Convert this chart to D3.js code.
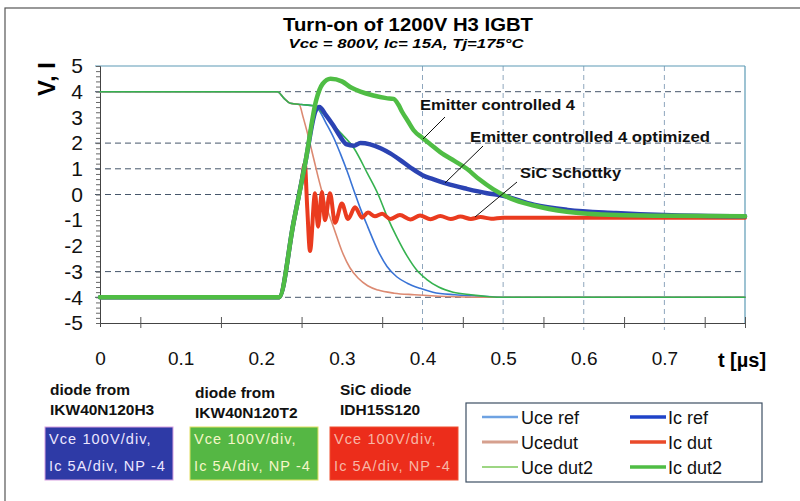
<!DOCTYPE html>
<html><head><meta charset="utf-8">
<script src="https://cdn.jsdelivr.net/npm/d3@7"></script>
<style>
body{margin:0;background:#fff}
svg{display:block}
text{font-family:"Liberation Sans",Arial,sans-serif}
</style>
</head><body>
<svg id="c" width="800" height="501"></svg>
<script>
// ---------- data ----------
const xLabels = [0, 0.1, 0.2, 0.3, 0.4, 0.5, 0.6, 0.7];
const xMinorTicks = [0.05, 0.15, 0.25, 0.35, 0.45, 0.55, 0.65, 0.75, 0.8];
const xGrid = [0.4, 0.5, 0.6, 0.7];
const yLabels = [5, 4, 3, 2, 1, 0, -1, -2, -3, -4, -5];
const yGrid = [4, 2, 1, 0, -3, -4];

const uceRef = [[0,4],[0.22,4],[0.228,3.75],[0.236,3.55],[0.25,3.5],[0.265,3.45],[0.27,3.35],[0.28,2.8],[0.29,2.2],[0.298,1.6],[0.306,0.95],[0.315,0.15],[0.323,-0.55],[0.332,-1.25],[0.345,-2.2],[0.356,-2.8],[0.368,-3.2],[0.381,-3.45],[0.397,-3.65],[0.413,-3.8],[0.44,-3.9],[0.47,-3.95],[0.5,-4.0],[0.8,-4.0]];
const uceDut = [[0,4],[0.22,4],[0.228,3.75],[0.236,3.55],[0.247,3.5],[0.252,3.0],[0.258,2.3],[0.265,1.4],[0.272,0.5],[0.28,-0.4],[0.29,-1.3],[0.3,-2.2],[0.31,-2.85],[0.32,-3.25],[0.332,-3.55],[0.345,-3.72],[0.365,-3.84],[0.39,-3.9],[0.43,-3.97],[0.47,-4.0],[0.8,-4.0]];
const uceDut2 = [[0,4],[0.22,4],[0.228,3.75],[0.236,3.55],[0.25,3.5],[0.265,3.45],[0.27,3.35],[0.285,2.85],[0.3,2.35],[0.315,1.8],[0.332,0.8],[0.345,0.0],[0.356,-0.85],[0.368,-1.65],[0.381,-2.4],[0.393,-2.95],[0.405,-3.3],[0.42,-3.6],[0.438,-3.8],[0.46,-3.9],[0.5,-4.0],[0.8,-4.0]];
const icRef = [[0,-4],[0.222,-4],[0.24,-1.1],[0.255,1.3],[0.268,3.3],[0.272,3.4],[0.28,3.1],[0.289,2.7],[0.298,2.25],[0.306,1.95],[0.315,1.9],[0.323,2.0],[0.335,1.95],[0.348,1.8],[0.36,1.6],[0.372,1.35],[0.385,1.05],[0.4,0.75],[0.413,0.6],[0.43,0.42],[0.455,0.22],[0.48,0.05],[0.5,-0.05],[0.538,-0.4],[0.58,-0.6],[0.64,-0.72],[0.7,-0.8],[0.8,-0.85]];
const icDut = [[0,-4],[0.222,-4],[0.24,-1.1],[0.25,0.5],[0.254,1.2],[0.257,-0.5],[0.2605,-2.2],[0.2667,0.05],[0.2704,-1.25],[0.2753,0.1],[0.279,-1.0],[0.2853,0.05],[0.2915,-1.1],[0.300,-0.35],[0.3076,-0.95],[0.3163,-0.5],[0.325,-0.9],[0.3324,-0.7],[0.341,-0.85],[0.35,-0.75],[0.36,-0.95],[0.372,-0.8],[0.385,-0.97],[0.397,-0.82],[0.41,-0.96],[0.422,-0.84],[0.435,-0.95],[0.447,-0.86],[0.46,-0.95],[0.472,-0.88],[0.485,-0.94],[0.5,-0.9],[0.8,-0.9]];
const icDut2 = [[0,-4],[0.222,-4],[0.24,-1.1],[0.255,1.3],[0.268,3.65],[0.276,4.3],[0.286,4.5],[0.3,4.4],[0.312,4.15],[0.323,4.0],[0.339,3.85],[0.355,3.75],[0.364,3.72],[0.37,3.5],[0.375,3.2],[0.382,2.85],[0.389,2.5],[0.4,2.2],[0.41,1.95],[0.422,1.65],[0.44,1.3],[0.455,1.0],[0.47,0.6],[0.488,0.2],[0.509,-0.15],[0.538,-0.43],[0.579,-0.67],[0.641,-0.8],[0.7,-0.83],[0.8,-0.85]];

const seriesNames = ["Uce ref","Ucedut","Uce dut2","Ic ref","Ic dut","Ic dut2"];
const annotations = ["Emitter controlled 4","Emitter controlled 4 optimized","SiC Schottky"];
const diodeTitles = [["diode from","IKW40N120H3"],["diode from","IKW40N120T2"],["SiC diode","IDH15S120"]];
const boxLines = ["Vce 100V/div,","Ic 5A/div, NP -4"];

// ---------- chart ----------
const svg = d3.select("#c");
const x = d3.scaleLinear().domain([0, 0.8]).range([100, 745]);
const y = d3.scaleLinear().domain([-5, 5]).range([323, 66]);

// outer frame
svg.append("rect").attr("x",5).attr("y",8).attr("width",800).attr("height",500)
  .attr("fill","none").attr("stroke","#555").attr("stroke-width",1.2);

// title
svg.append("text").attr("x",408).attr("y",31).attr("text-anchor","middle")
  .attr("font-size",18).attr("font-weight","bold").attr("textLength",250).attr("lengthAdjust","spacingAndGlyphs")
  .text("Turn-on of 1200V H3 IGBT");
svg.append("text").attr("x",406).attr("y",48).attr("text-anchor","middle")
  .attr("font-size",13).attr("font-weight","bold").attr("font-style","italic").attr("textLength",235).attr("lengthAdjust","spacingAndGlyphs")
  .text("Vcc = 800V, Ic= 15A, Tj=175°C");

// vertical grid
svg.append("g").selectAll("line").data(xGrid).join("line")
  .attr("x1",d=>x(d)).attr("x2",d=>x(d)).attr("y1",y(5)).attr("y2",y(-5)+7)
  .attr("stroke","#8ea6bd").attr("stroke-width",1).attr("stroke-dasharray","5,4");

// horizontal grid
svg.append("g").selectAll("line").data(yGrid).join("line")
  .attr("x1",95).attr("x2",x(0.8)).attr("y1",d=>y(d)).attr("y2",d=>y(d))
  .attr("stroke","#45566a").attr("stroke-width",1).attr("stroke-dasharray","6,4");

// plot frame top/right
svg.append("line").attr("x1",95).attr("x2",x(0.8)).attr("y1",y(5)).attr("y2",y(5)).attr("stroke","#5c9ab5").attr("stroke-width",1.2);
svg.append("line").attr("x1",x(0.8)).attr("x2",x(0.8)).attr("y1",y(5)).attr("y2",y(-5)).attr("stroke","#5c9ab5").attr("stroke-width",1.2);

// y axis (minor ticks)
const yMinor = d3.range(-50, 51, 2).map(v => v/10);
const yMinorAxis = svg.append("g").attr("transform","translate(100,0)")
  .call(d3.axisLeft(y).tickValues(yMinor).tickSize(4).tickFormat(""));
yMinorAxis.select(".domain").attr("stroke","#444");
yMinorAxis.selectAll(".tick line").attr("stroke","#666");
// y labels
const yAx = svg.append("g").attr("transform","translate(100,0)")
  .call(d3.axisLeft(y).tickValues(yLabels).tickSize(0).tickPadding(17).tickFormat(d => String(d)));
yAx.select(".domain").remove();
yAx.selectAll("text").attr("font-size",21).attr("fill","#111").attr("font-family","Liberation Sans, Arial");

// y title
svg.append("text").attr("transform","translate(55,79) rotate(-90)").attr("text-anchor","middle")
  .attr("font-size",24).attr("font-weight","bold").text("V, I");

// x axis
const xMinorAxis = svg.append("g").attr("transform",`translate(0,${y(-5)})`)
  .call(d3.axisBottom(x).tickValues(xMinorTicks).tickSize(4).tickFormat(""));
xMinorAxis.select(".domain").attr("stroke","#444");
xMinorAxis.selectAll(".tick line").attr("y1",-6).attr("y2",5).attr("stroke","#555");
const xAx = svg.append("g").attr("transform",`translate(0,${y(-5)})`)
  .call(d3.axisBottom(x).tickValues(xLabels).tickSize(0).tickPadding(29).tickFormat(d=>d===0?"0":String(d)));
xAx.select(".domain").remove();
xAx.selectAll("text").attr("font-size",19).attr("fill","#111").attr("font-family","Liberation Sans, Arial");
svg.append("text").attr("x",742).attr("y",367).attr("text-anchor","middle")
  .attr("font-size",20).attr("font-weight","bold").text("t [µs]");

// lines
const line = d3.line().x(d=>x(d[0])).y(d=>y(d[1])).curve(d3.curveMonotoneX);
const g = svg.append("g");
const styles = [
  {data:uceRef, color:"#3a74d6", w:1.6},
  {data:uceDut, color:"#dc8a72", w:1.6},
  {data:uceDut2,color:"#35b24f", w:1.6},
  {data:icDut,  color:"#ea3b1f", w:4},
  {data:icRef,  color:"#2b43b3", w:4.5},
  {data:icDut2, color:"#4fbd44", w:4.5}
];
g.selectAll("path").data(styles).join("path")
  .attr("d",d=>line(d.data)).attr("fill","none")
  .attr("stroke",d=>d.color).attr("stroke-width",d=>d.w)
  .attr("stroke-linejoin","round").attr("stroke-linecap","round");

// annotations
const annPos = [{x:420,y:110,len:155,lx1:445,ly1:117,lx2:423,ly2:139},
                {x:470,y:142,len:240,lx1:483,ly1:146,lx2:445,ly2:183},
                {x:520,y:178,len:101,lx1:517,ly1:182,lx2:475,ly2:217}];
annotations.forEach((t,i)=>{
  const p = annPos[i];
  svg.append("line").attr("x1",p.lx1).attr("y1",p.ly1).attr("x2",p.lx2).attr("y2",p.ly2).attr("stroke","#111").attr("stroke-width",1);
  svg.append("text").attr("x",p.x).attr("y",p.y).attr("font-size",14).attr("font-weight","bold")
    .attr("textLength",p.len).attr("lengthAdjust","spacingAndGlyphs").attr("fill","#111").text(t);
});

// diode boxes
const boxes = [{x:45,tx:50,ty:395,fill:"#2e3aa6",tc:"#ece6ff",stroke:"#d7a0e0"},
               {x:190,tx:195,ty:398,fill:"#55b744",tc:"#f6f6c8",stroke:"#e2e060"},
               {x:330,tx:340,ty:395,fill:"#ec2d1b",tc:"#f7b7a6",stroke:"#f05030"}];
diodeTitles.forEach((lines,i)=>{
  const b = boxes[i];
  lines.forEach((l,j)=>{
    svg.append("text").attr("x",b.tx).attr("y",b.ty+j*20).attr("font-size",15.5).attr("font-weight","bold")
      .attr("fill","#111").text(l);
  });
  svg.append("rect").attr("x",b.x).attr("y",427).attr("width",128).attr("height",53)
    .attr("fill",b.fill).attr("stroke",b.stroke).attr("stroke-width",1);
  boxLines.forEach((l,j)=>{
    svg.append("text").attr("x",b.x+4).attr("y",444+j*27).attr("font-size",14.5)
      .attr("letter-spacing",1.1).attr("fill",b.tc).text(l);
  });
});

// legend
svg.append("rect").attr("x",466).attr("y",403).attr("width",296).attr("height",79)
  .attr("fill","#fff").attr("stroke","#3d4f63").attr("stroke-width",1.2);
const legStyles = [
  {color:"#6ea2e2", w:2.5},{color:"#d6a08e", w:3},{color:"#7cc85a", w:1.5},
  {color:"#1f43c8", w:3.5},{color:"#ea4a2a", w:3.5},{color:"#4fbd44", w:3.5}
];
seriesNames.forEach((n,i)=>{
  const col = Math.floor(i/3), row = i%3;
  const lx = col===0 ? 482 : 630, tx = col===0 ? 521 : 668;
  const cy = 417 + row*25;
  svg.append("line").attr("x1",lx).attr("x2",lx+36).attr("y1",cy).attr("y2",cy)
    .attr("stroke",legStyles[i].color).attr("stroke-width",legStyles[i].w);
  svg.append("text").attr("x",tx).attr("y",cy+6.5).attr("font-size",18).attr("fill","#111").text(n);
});
</script>
</body></html>
